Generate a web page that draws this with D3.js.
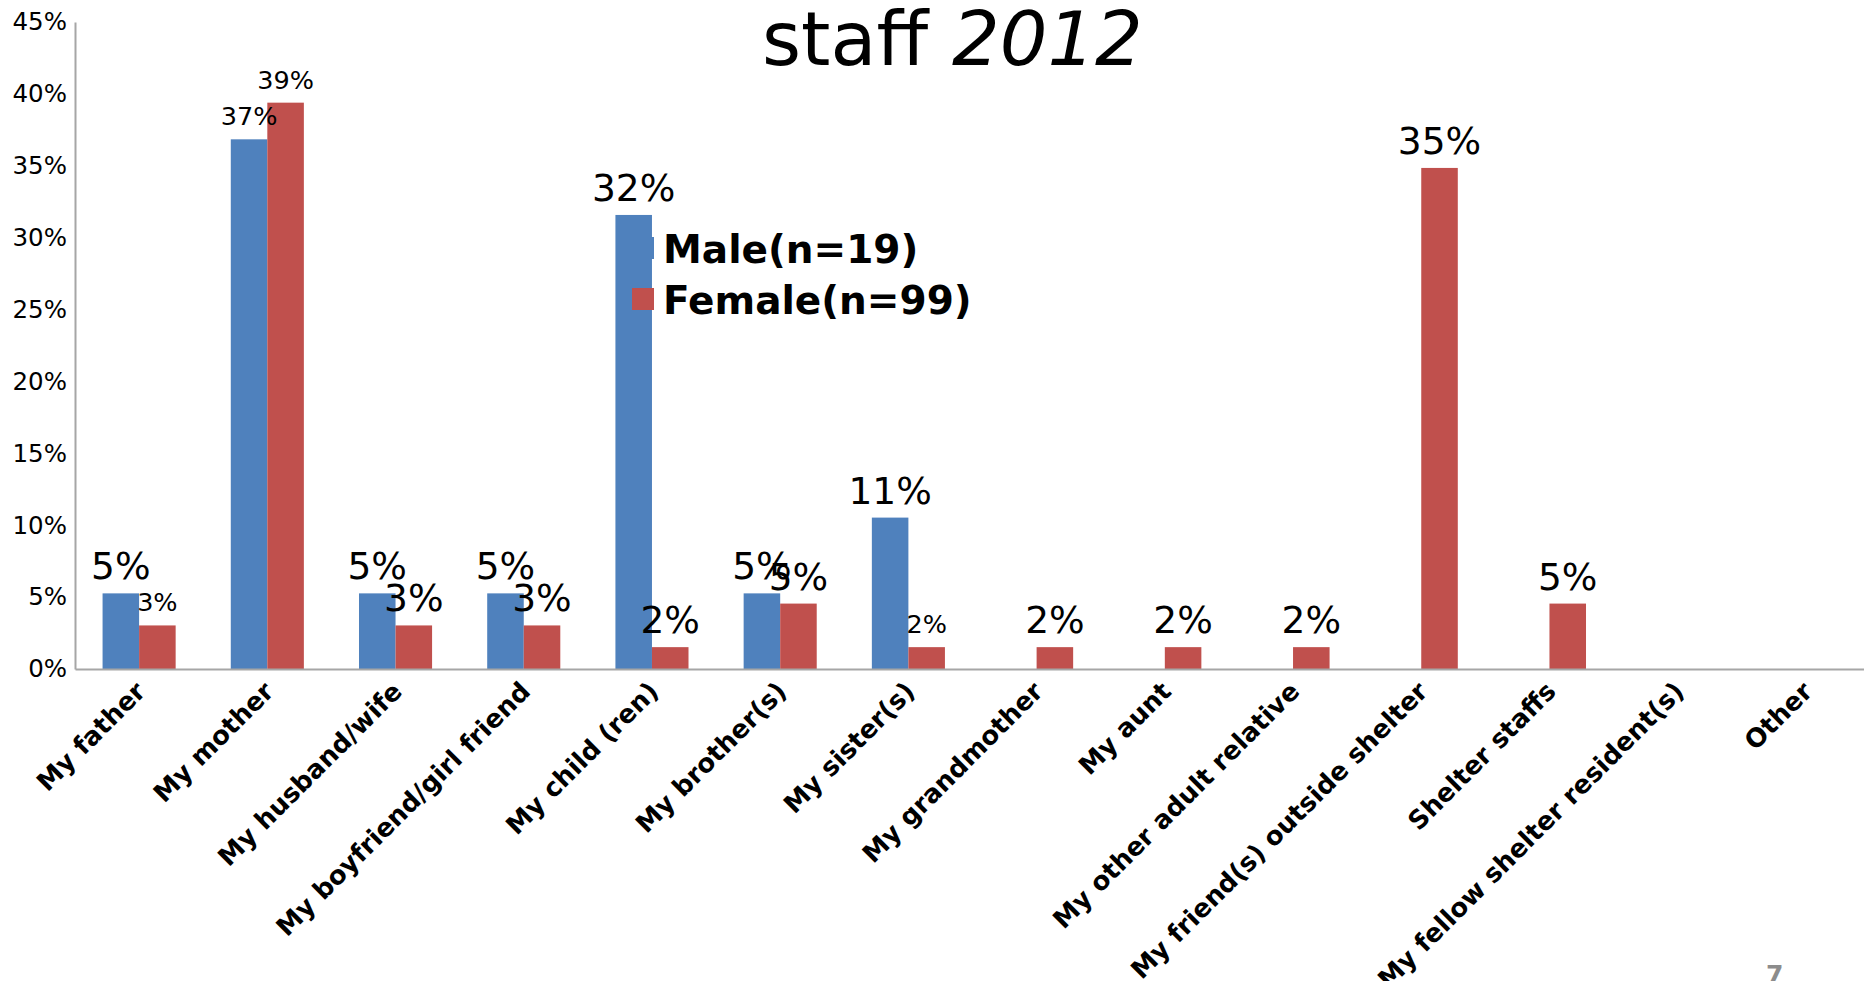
<!DOCTYPE html>
<html>
<head>
<meta charset="utf-8">
<script src="https://cdn.jsdelivr.net/npm/d3@7"></script>
<style>
  html, body { margin: 0; padding: 0; background: #ffffff; }
  svg { display: block; font-family: "DejaVu Sans", sans-serif; }
</style>
</head>
<body>
<svg id="chart" width="1864" height="981"></svg>
<script>
// Who respondents talk to, by gender
const categories = [
  "My father", "My mother", "My husband/wife", "My boyfriend/girl friend",
  "My child (ren)", "My brother(s)", "My sister(s)", "My grandmother",
  "My aunt", "My other adult relative", "My friend(s) outside shelter",
  "Shelter staffs", "My fellow shelter resident(s)", "Other"
];
const seriesNames = ["Male(n=19)", "Female(n=99)"];
const maleValues = [0.0526, 0.3684, 0.0526, 0.0526, 0.3158, 0.0526, 0.1053, 0, 0, 0, 0, 0, 0, 0];
const femaleValues = [0.0303, 0.3939, 0.0303, 0.0303, 0.0152, 0.0455, 0.0152, 0.0152, 0.0152, 0.0152, 0.3485, 0.0455, 0, 0];
const yTicks = [0, 0.05, 0.10, 0.15, 0.20, 0.25, 0.30, 0.35, 0.40, 0.45];

// Data labels drawn in the smaller type size: [series index, category index]
const compactLabels = [[1, 0], [0, 1], [1, 1], [1, 6]];

const colors = ["#4F81BD", "#C0504D"];
const svg = d3.select("#chart");

const plot = { left: 75, right: 1870, top: 22, bottom: 669 };

const x0 = d3.scaleBand()
  .domain(categories)
  .range([plot.left, plot.right])
  .paddingInner(0.43)
  .paddingOuter(0.215);
const x1 = d3.scaleBand()
  .domain([0, 1])
  .range([0, x0.bandwidth()]);
const y = d3.scaleLinear()
  .domain([0, 0.45])
  .range([plot.bottom, plot.top]);

const pct = d3.format(".0%");

// Title
const title = svg.append("text")
  .attr("x", 762)
  .attr("y", 65)
  .attr("font-size", 75)
  .attr("fill", "#000");
title.append("tspan").text("staff ");
title.append("tspan").attr("font-style", "italic").text("2012");

// Bars
const series = [maleValues, femaleValues];
const rows = [];
series.forEach((vals, s) => vals.forEach((v, i) => rows.push({ s, i, v })));

svg.append("g").selectAll("rect")
  .data(rows.filter(d => d.v > 0))
  .join("rect")
  .attr("x", d => x0(categories[d.i]) + x1(d.s))
  .attr("y", d => y(d.v))
  .attr("width", x1.bandwidth())
  .attr("height", d => y(0) - y(d.v))
  .attr("fill", d => colors[d.s]);

// Y axis
const yAxis = d3.axisLeft(y)
  .tickValues(yTicks)
  .tickFormat(pct)
  .tickSize(0)
  .tickPadding(8);
const gy = svg.append("g")
  .attr("transform", `translate(${plot.left},0)`)
  .call(yAxis);
gy.select(".domain").attr("stroke", "#a6a6a6").attr("stroke-width", 2);
gy.selectAll("text")
  .attr("font-family", "DejaVu Sans, sans-serif")
  .attr("font-size", 24.5)
  .attr("fill", "#000");

// X axis
const xAxis = d3.axisBottom(x0).tickSize(0).tickFormat("");
const gx = svg.append("g")
  .attr("transform", `translate(0,${plot.bottom})`)
  .call(xAxis);
gx.select(".domain").attr("stroke", "#a6a6a6").attr("stroke-width", 2);

// Rotated category labels
svg.append("g").selectAll("text")
  .data(categories)
  .join("text")
  .attr("transform", d => `translate(${x0(d) + x0.bandwidth() / 2 + 8},${plot.bottom + 24}) rotate(-45)`)
  .attr("text-anchor", "end")
  .attr("font-size", 25.8)
  .attr("font-weight", "bold")
  .attr("fill", "#000")
  .text(d => d);

// Data labels
const isCompact = d => compactLabels.some(([s, i]) => s === d.s && i === d.i);
svg.append("g").selectAll("text")
  .data(rows.filter(d => d.v > 0))
  .join("text")
  .attr("x", d => x0(categories[d.i]) + x1(d.s) + x1.bandwidth() / 2)
  .attr("y", d => y(d.v) - 14)
  .attr("text-anchor", "middle")
  .attr("font-size", d => isCompact(d) ? 25.5 : 37.5)
  .attr("fill", "#000")
  .text(d => pct(d.v));

// Legend
const legend = svg.append("g").attr("transform", "translate(632,237)");
seriesNames.forEach((name, k) => {
  const row = legend.append("g").attr("transform", `translate(0,${k * 51})`);
  row.append("rect")
    .attr("width", 22)
    .attr("height", 22)
    .attr("fill", colors[k]);
  row.append("text")
    .attr("x", 31)
    .attr("y", 26)
    .attr("font-size", 39)
    .attr("font-weight", "bold")
    .attr("fill", "#000")
    .text(name);
});

// Slide number
svg.append("text")
  .attr("x", 1766)
  .attr("y", 983)
  .attr("font-size", 25)
  .attr("font-weight", "bold")
  .attr("fill", "#8c8c8c")
  .text("7");
</script>
</body>
</html>
